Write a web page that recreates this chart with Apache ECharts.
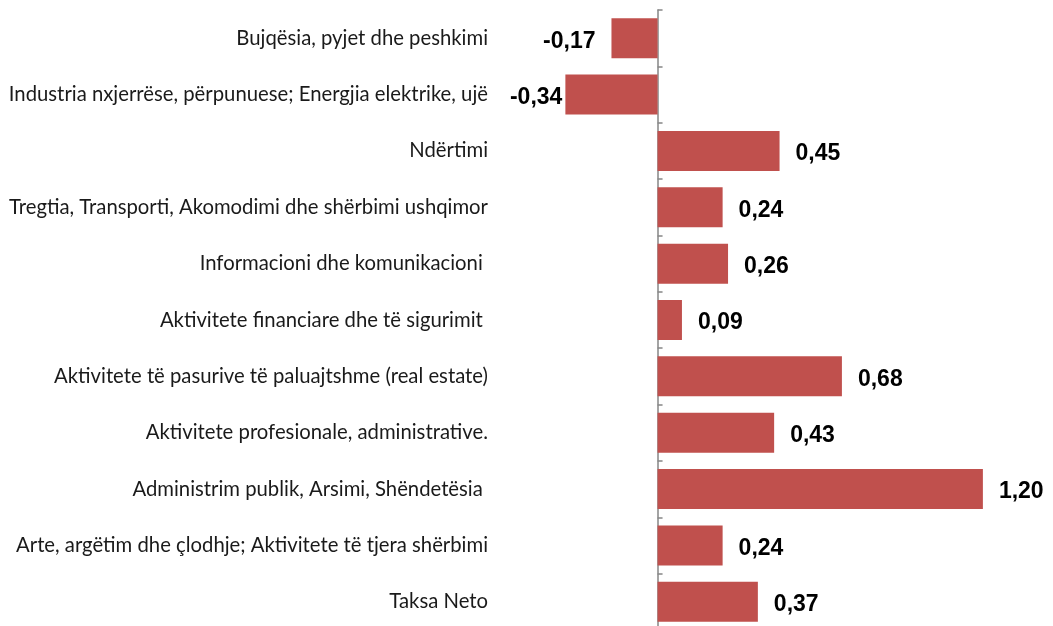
<!DOCTYPE html>
<html><head><meta charset="utf-8">
<script src="https://cdn.jsdelivr.net/npm/echarts@6/dist/echarts.min.js"></script>
<style>html,body{margin:0;padding:0;background:#fff}#c{width:1053px;height:626px}</style>
</head><body><div id="c"></div>
<script>
const categories = [
  "Bujqësia, pyjet dhe peshkimi",
  "Industria nxjerrëse, përpunuese; Energjia elektrike, ujë",
  "Ndërtimi",
  "Tregtia, Transporti, Akomodimi dhe shërbimi ushqimor",
  "Informacioni dhe komunikacioni ",
  "Aktivitete financiare dhe të sigurimit ",
  "Aktivitete të pasurive të paluajtshme (real estate)",
  "Aktivitete profesionale, administrative.",
  "Administrim publik, Arsimi, Shëndetësia ",
  "Arte, argëtim dhe çlodhje; Aktivitete të tjera shërbimi",
  "Taksa Neto"
];
const values = [-0.17, -0.34, 0.45, 0.24, 0.26, 0.09, 0.68, 0.43, 1.20, 0.24, 0.37];

// label placement tweak (layout only): the longest negative bar's label sits close to the bar
const tightLabelIndex = 1;

const chart = echarts.init(document.getElementById('c'), null, {renderer: 'canvas'});
chart.setOption({
  animation: false,
  grid: {left: 522, width: 488, top: 10, height: 620, containLabel: false, outerBoundsMode: 'none'},
  xAxis: {
    type: 'value', min: -0.5, max: 1.3,
    show: false
  },
  yAxis: {
    type: 'category', inverse: true, data: categories,
    axisLine: {show: true, onZero: true, lineStyle: {color: '#868686', width: 1.5}},
    axisTick: {show: true, inside: true, length: 5, lineStyle: {color: '#868686', width: 1.5}},
    axisLabel: {margin: 34, fontFamily: 'Lato', fontSize: 20.3, color: '#1a1a1a'},
    splitLine: {show: false}
  },
  series: [{
    type: 'bar',
    data: values.map((v, i) => ({
      value: v,
      label: {position: v < 0 ? 'left' : 'right', distance: i === tightLabelIndex ? 3 : 16}
    })),
    barCategoryGap: '29%',
    itemStyle: {color: '#C0504D'},
    label: {
      show: true, offset: [0, 3],
      fontFamily: 'Liberation Sans', fontWeight: 'bold', fontSize: 23, color: '#000',
      formatter: p => p.value.toFixed(2).replace('.', ',')
    }
  }]
});
</script></body></html>
